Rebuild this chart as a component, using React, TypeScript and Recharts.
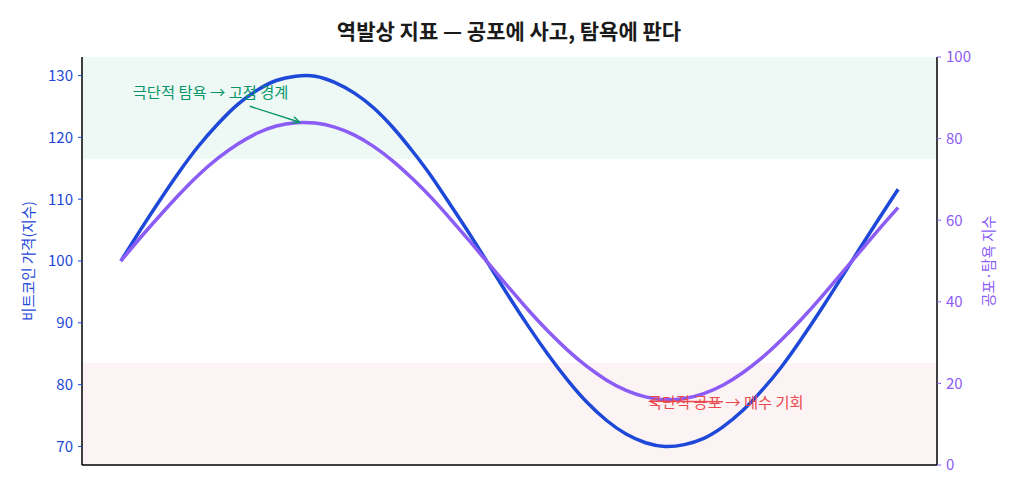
import React from "react";
import {
  ComposedChart,
  Line,
  XAxis,
  YAxis,
  ReferenceArea,
  ReferenceDot,
} from "recharts";

// 41 sampled steps along the cycle
const steps = [
  0, 1, 2, 3, 4, 5, 6, 7, 8, 9, 10, 11, 12, 13, 14, 15, 16, 17, 18, 19, 20,
  21, 22, 23, 24, 25, 26, 27, 28, 29, 30, 31, 32, 33, 34, 35, 36, 37, 38, 39, 40,
];

const btcIndex = [
  100.0, 105.0, 109.8, 114.4, 118.6, 122.2, 125.3, 127.6, 129.2, 129.9, 129.9,
  128.9, 127.2, 124.8, 121.6, 117.8, 113.6, 108.9, 104.1, 99.1, 94.1, 89.3,
  84.8, 80.7, 77.1, 74.2, 72.0, 70.6, 70.0, 70.3, 71.3, 73.2, 75.8, 79.1, 82.9,
  87.3, 92.0, 96.9, 101.9, 106.8, 111.6,
];

const fearGreed = [
  50.0, 55.7, 61.1, 66.3, 71.1, 75.2, 78.6, 81.3, 83.1, 83.9, 83.8, 82.8, 80.9,
  78.1, 74.5, 70.2, 65.4, 60.1, 54.6, 48.9, 43.3, 37.8, 32.7, 28.1, 24.1, 20.8,
  18.3, 16.7, 16.0, 16.3, 17.5, 19.6, 22.6, 26.3, 30.7, 35.6, 40.9, 46.5, 52.1,
  57.7, 63.1,
];

const priceTicks = [70, 80, 90, 100, 110, 120, 130];
const fgTicks = [0, 20, 40, 60, 80, 100];

const TITLE = "역발상 지표 — 공포에 사고, 탐욕에 판다";
const LEFT_LABEL = "비트코인 가격(지수)";
const RIGHT_LABEL = "공포·탐욕 지수";
const GREED_NOTE = "극단적 탐욕 → 고점 경계";
const FEAR_NOTE = "극단적 공포 → 매수 기회";

const BLUE = "#1d48d8";
const PURPLE = "#8b5cf6";
const GREEN = "#079669";
const RED = "#ea4a4f";
const FONT = "'Noto Sans CJK KR', 'Noto Sans', sans-serif";

const data = steps.map((s, i) => ({ step: s, btc: btcIndex[i], fg: fearGreed[i] }));

const Arrow = ({ x1, y1, x2, y2, color }: any) => {
  const a = Math.atan2(y2 - y1, x2 - x1);
  const len = 8;
  const spread = 0.45;
  const h1x = x2 - len * Math.cos(a - spread);
  const h1y = y2 - len * Math.sin(a - spread);
  const h2x = x2 - len * Math.cos(a + spread);
  const h2y = y2 - len * Math.sin(a + spread);
  return (
    <g stroke={color} strokeWidth={1.4} fill="none">
      <line x1={x1} y1={y1} x2={x2} y2={y2} />
      <polyline points={`${h1x},${h1y} ${x2},${y2} ${h2x},${h2y}`} />
    </g>
  );
};

const GreedNote = (props: any) => {
  const { cx, cy } = props;
  return (
    <g>
      <text
        x={cx - 163}
        y={cy - 31}
        fill={GREEN}
        fontSize={15.3}
        fontFamily={FONT}
        dominantBaseline="central"
      >
        {GREED_NOTE}
      </text>
      <Arrow x1={cx - 46} y1={cy - 16} x2={cx + 4} y2={cy} color={GREEN} />
    </g>
  );
};

const FearNote = (props: any) => {
  const { cx, cy } = props;
  return (
    <g>
      <text
        x={cx - 17}
        y={cy + 1}
        fill={RED}
        fontSize={15.3}
        fontFamily={FONT}
        dominantBaseline="central"
      >
        {FEAR_NOTE}
      </text>
      <Arrow x1={cx + 58} y1={cy + 2} x2={cx - 15} y2={cy + 1.5} color={RED} />
    </g>
  );
};

const axisTitle = (text: string, color: string, x: number) => (props: any) => {
  const vb = props.viewBox || {};
  const cy = (vb.y || 0) + (vb.height || 0) / 2;
  return (
    <text
      x={x}
      y={cy}
      transform={`rotate(-90, ${x}, ${cy})`}
      textAnchor="middle"
      dominantBaseline="central"
      fill={color}
      fontSize={14.5}
      fontFamily={FONT}
    >
      {text}
    </text>
  );
};

export default function App() {
  return (
    <div
      style={{
        position: "absolute",
        left: 0,
        top: 0,
        width: 1018,
        height: 496,
        background: "#fff",
        fontFamily: FONT,
      }}
    >
      <div
        style={{
          position: "absolute",
          top: 16,
          left: 0,
          width: 1018,
          textAlign: "center",
          fontSize: 21,
          fontWeight: 700,
          color: "#1a1a1a",
          lineHeight: "28px",
        }}
      >
        {TITLE}
      </div>
      <ComposedChart
        width={1018}
        height={496}
        data={data}
        margin={{ top: 57, right: 0, bottom: 30, left: 0 }}
      >
        <XAxis
          dataKey="step"
          type="number"
          domain={[-2, 42]}
          tick={false}
          tickLine={false}
          axisLine={{ stroke: "#000", strokeWidth: 1.5 }}
          height={1}
        />
        <YAxis
          yAxisId="left"
          orientation="left"
          width={82}
          domain={[67, 133]}
          ticks={priceTicks}
          allowDataOverflow
          tick={{ fill: BLUE, fontSize: 15, fontFamily: FONT }}
          tickLine={{ stroke: BLUE }}
          tickSize={4}
          tickMargin={5}
          axisLine={{ stroke: "#000", strokeWidth: 1.5 }}
          label={{ content: axisTitle(LEFT_LABEL, BLUE, 27) }}
        />
        <YAxis
          yAxisId="right"
          orientation="right"
          width={81}
          domain={[0, 100]}
          ticks={fgTicks}
          allowDataOverflow
          tick={{ fill: PURPLE, fontSize: 15, fontFamily: FONT }}
          tickLine={{ stroke: PURPLE }}
          tickSize={4}
          tickMargin={5}
          axisLine={{ stroke: "#000", strokeWidth: 1.5 }}
          label={{ content: axisTitle(RIGHT_LABEL, PURPLE, 987) }}
        />
        <ReferenceArea
          yAxisId="right"
          y1={75}
          y2={100}
          fill="#eef8f4"
          fillOpacity={1}
          stroke="none"
        />
        <ReferenceArea
          yAxisId="right"
          y1={0}
          y2={25}
          fill="#fcf3f4"
          fillOpacity={1}
          stroke="none"
        />
        <Line
          yAxisId="left"
          type="natural"
          dataKey="btc"
          stroke={BLUE}
          strokeWidth={3.5}
          dot={false}
          isAnimationActive={false}
        />
        <Line
          yAxisId="right"
          type="natural"
          dataKey="fg"
          stroke={PURPLE}
          strokeWidth={3.5}
          dot={false}
          isAnimationActive={false}
        />
        <ReferenceDot yAxisId="right" x={9} y={84} shape={GreedNote} />
        <ReferenceDot yAxisId="right" x={28} y={16} shape={FearNote} />
      </ComposedChart>
    </div>
  );
}
